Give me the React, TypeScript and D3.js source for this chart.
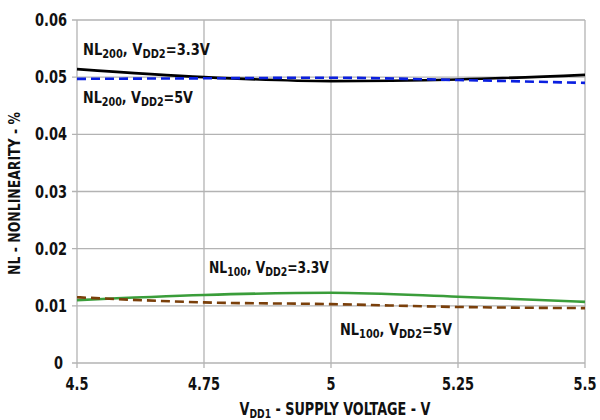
import React, { useLayoutEffect, useRef } from "react";
import * as d3 from "d3";

const xValues = [4.5, 4.75, 5, 5.25, 5.5];
const nl200_33 = [0.0514, 0.0500, 0.0493, 0.0496, 0.0504];
const nl200_5 = [0.0497, 0.0498, 0.0499, 0.0495, 0.0490];
const nl100_33 = [0.0110, 0.0119, 0.0123, 0.0116, 0.0107];
const nl100_5 = [0.0115, 0.0106, 0.0103, 0.0098, 0.0096];
const xTicks = [4.5, 4.75, 5, 5.25, 5.5];
const yTicks = [0, 0.01, 0.02, 0.03, 0.04, 0.05, 0.06];

const W = 600, H = 420;
const left = 77, right = 585, top = 20, bottom = 363;
const FONT = "'DejaVu Sans Condensed', 'DejaVu Sans', sans-serif";

const tickWidth = (s: string) => (s.length === 1 ? 9 : s.length === 3 ? 23 : 32);

type FitProps = {
  x: number; y: number; width: number; anchor?: "start" | "middle" | "end";
  rotate?: number; size: number; children: React.ReactNode;
};

function FitText({ x, y, width, anchor = "start", rotate = 0, size, children }: FitProps) {
  const inner = useRef<SVGGElement>(null);
  const txt = useRef<SVGTextElement>(null);
  useLayoutEffect(() => {
    if (!txt.current || !inner.current) return;
    const w = txt.current.getComputedTextLength() || txt.current.getBBox().width;
    const sx = w > 0 ? width / w : 1;
    inner.current.setAttribute("transform", `scale(${sx},1)`);
  });
  return (
    <g transform={`translate(${x},${y}) rotate(${rotate})`}>
      <g ref={inner}>
        <text ref={txt} x={0} y={0} textAnchor={anchor} fontFamily={FONT} fontWeight="bold" fontSize={size} fill="#111">
          {children}
        </text>
      </g>
    </g>
  );
}

export default function App() {
  const x = d3.scaleLinear().domain([4.5, 5.5]).range([left, right]);
  const y = d3.scaleLinear().domain([0, 0.06]).range([bottom, top]);
  const line = (vals: number[]) =>
    d3.line<number>().x((_, i) => x(xValues[i])).y((v) => y(v)).curve(d3.curveMonotoneX)(vals) || "";

  const series = [
    { vals: nl100_33, color: "#3a9d3a", dash: "none" },
    { vals: nl100_5, color: "#7a3f0a", dash: "9,5" },
    { vals: nl200_33, color: "#000000", dash: "none" },
    { vals: nl200_5, color: "#0a1fe0", dash: "9,5" },
  ];

  const label = (px: number, py: number, sub1: string, rest: string, len: number) => (
    <FitText x={px} y={py} width={len} size={16.5}>
      NL<tspan fontSize={12.5} dy={3}>{sub1}</tspan>
      <tspan dy={-3}>, V</tspan>
      <tspan fontSize={12.5} dy={3}>DD2</tspan>
      <tspan dy={-3}>{rest}</tspan>
    </FitText>
  );

  return (
    <svg width={W} height={H} style={{ position: "absolute", left: 0, top: 0, background: "#fff" }}>
      <rect x={0} y={0} width={W} height={H} fill="#fff" />
      {xTicks.map((t) => (
        <line key={"gx" + t} x1={x(t)} x2={x(t)} y1={top} y2={bottom + 5} stroke="#b3b3b3" strokeWidth={1.3} />
      ))}
      {yTicks.map((t) => (
        <line key={"gy" + t} x1={left - 5} x2={right} y1={y(t)} y2={y(t)} stroke="#b3b3b3" strokeWidth={1.3} />
      ))}
      {series.map((s, i) => (
        <path key={i} d={line(s.vals)} fill="none" stroke={s.color} strokeWidth={2.6} strokeDasharray={s.dash} />
      ))}
      {yTicks.map((t) => {
        const s = t === 0 ? "0" : t.toFixed(2);
        return (
          <FitText key={"ty" + t} x={t === 0 ? 63 : 67} y={y(t) + 6} width={tickWidth(s)} anchor="end" size={17.5}>
            {s}
          </FitText>
        );
      })}
      {xTicks.map((t) => {
        const s = String(t);
        return (
          <FitText key={"tx" + t} x={x(t)} y={390} width={tickWidth(s)} anchor="middle" size={17.5}>
            {s}
          </FitText>
        );
      })}
      <FitText x={335} y={415} width={191} anchor="middle" size={17.5}>
        V<tspan fontSize={12.5} dy={3}>DD1</tspan>
        <tspan dy={-3}> - SUPPLY VOLTAGE - V</tspan>
      </FitText>
      <FitText x={20} y={(top + bottom) / 2 + 2} width={163} anchor="middle" rotate={-90} size={15.5}>
        NL - NONLINEARITY - %
      </FitText>
      {label(83, 55, "200", "=3.3V", 127)}
      {label(83, 103, "200", "=5V", 110)}
      {label(209, 273, "100", "=3.3V", 120)}
      {label(340, 335, "100", "=5V", 112)}
    </svg>
  );
}
